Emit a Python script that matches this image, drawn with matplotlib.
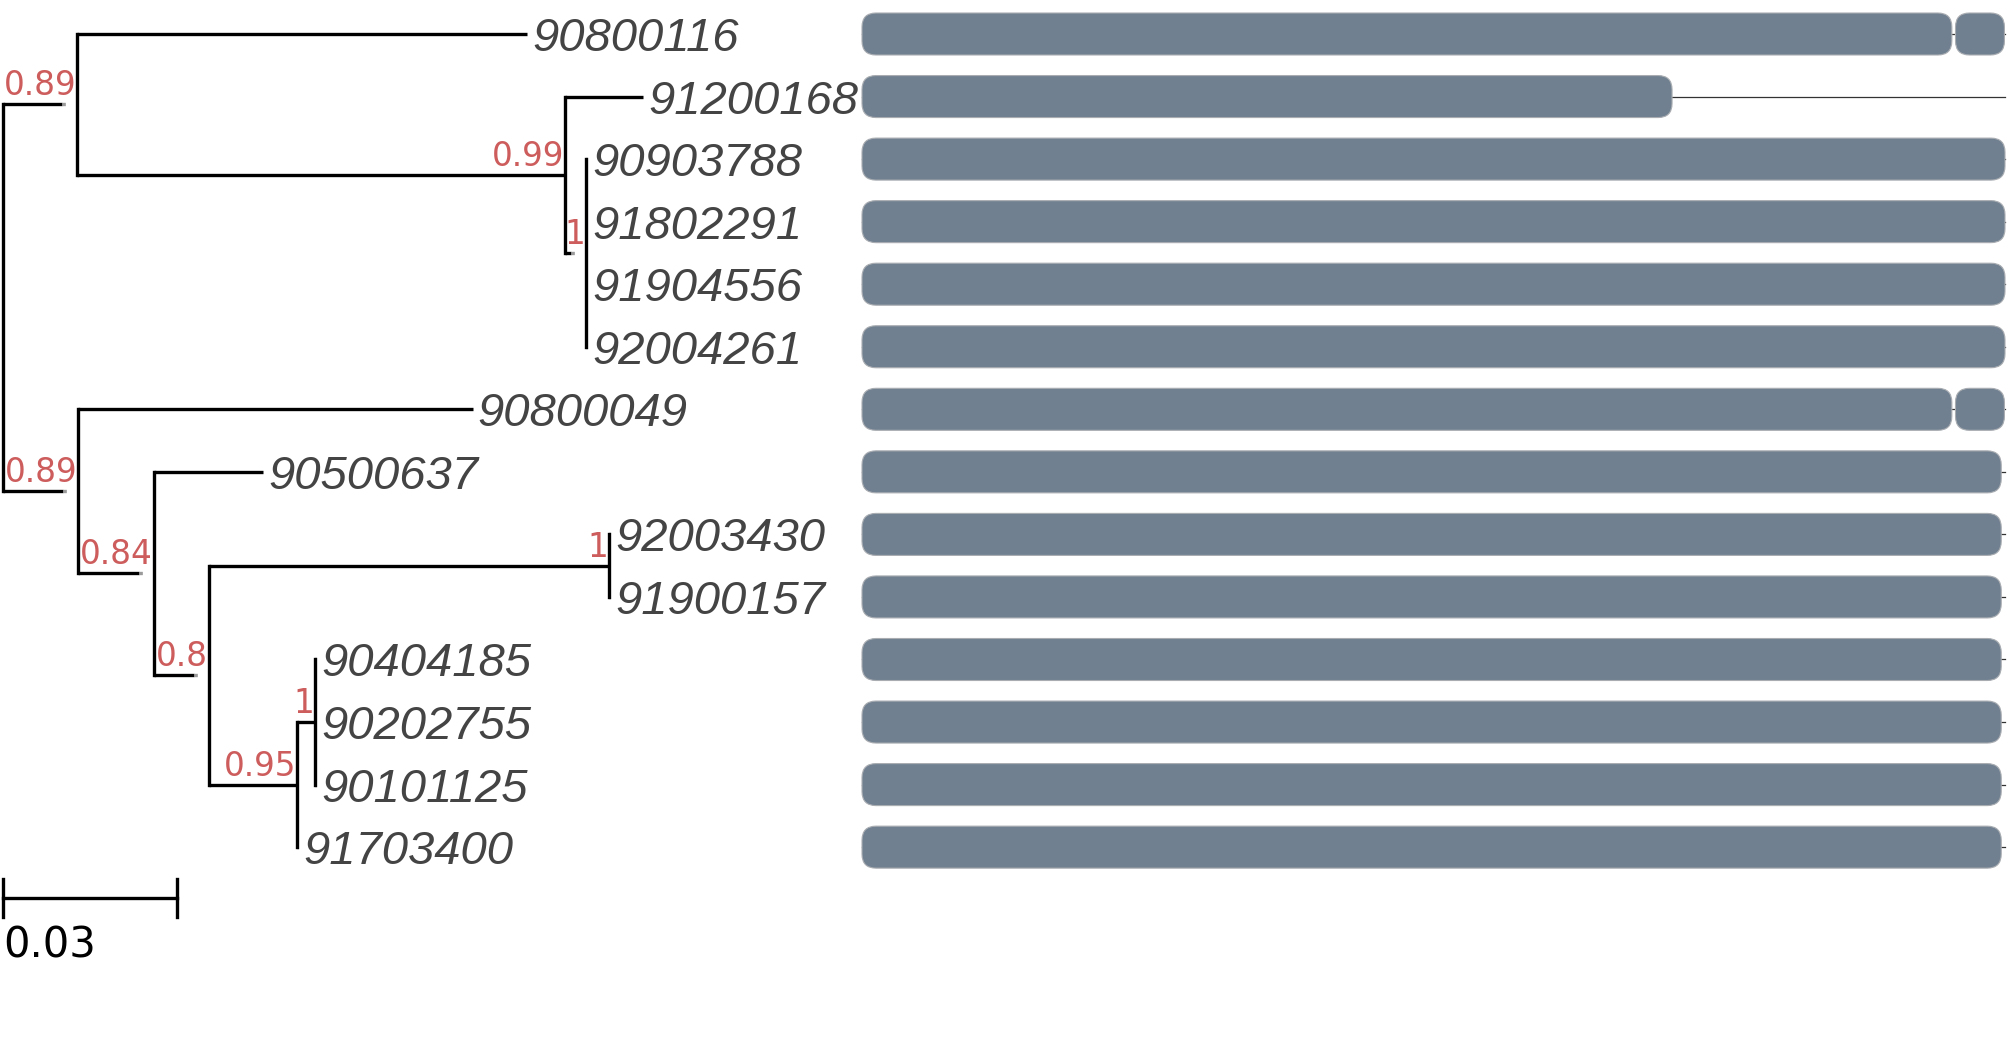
import matplotlib
matplotlib.use("Agg")
import matplotlib.pyplot as plt
from matplotlib.patches import FancyBboxPatch

# ---------------- data ----------------
tip_order = ["90800116", "91200168", "90903788", "91802291", "91904556", "92004261",
             "90800049", "90500637", "92003430", "91900157", "90404185", "90202755",
             "90101125", "91703400"]

node_name = ["root", "A", "B", "C", "D", "E", "F", "G", "H", "I",
             "90800116", "91200168", "90903788", "91802291", "91904556", "92004261",
             "90800049", "90500637", "92003430", "91900157", "90404185", "90202755",
             "90101125", "91703400"]
node_parent = [None, "root", "A", "B", "root", "D", "E", "F", "F", "H",
               "A", "B", "C", "C", "C", "C",
               "D", "E", "G", "G", "I", "I",
               "I", "H"]
branch_length = [0.0, 0.0128, 0.0844, 0.0036, 0.0130, 0.0131, 0.0095, 0.0692, 0.0152, 0.0031,
                 0.0778, 0.0135, 0.0002, 0.0002, 0.0002, 0.0002,
                 0.0682, 0.0189, 0.0002, 0.0002, 0.0002, 0.0002,
                 0.0002, 0.0002]
node_support = [None, "0.89", "0.99", "1", "0.89", "0.84", "0.8", "1", "0.95", "1"] + [None] * 14
dotted_nodes = ["A", "C", "D", "E", "F"]

scale_value = 0.03
scale_label = "0.03"

# sequence architecture (per tip, same order as tip_order)
seq_length = [1000, 1000, 1000, 1000, 1000, 1000, 1000, 1000, 1000, 1000, 1000, 1000, 1000, 1000]
seg_start = [[0, 956.7], [0], [0], [0], [0], [0], [0, 956.7], [0], [0], [0], [0], [0], [0], [0]]
seg_end = [[953.5, 999.5], [708.7], [1000], [1000], [1000], [1000], [953.5, 999.5],
           [996.7], [996.7], [996.7], [996.7], [996.7], [996.7], [996.7]]

# ---------------- layout ----------------
W, H = 2007, 1055
DPI = 100
PX = 72.0 / DPI          # points per pixel
row0_px, row_px = 34.0, 62.55
tree_x0_px, tree_px_per_unit = 3.3, 5780.0
bar_x0_px, bar_px_per_unit = 862.0, 1.143

ylim = ((H - row0_px) / row_px, -row0_px / row_px)

fig = plt.figure(figsize=(W / DPI, H / DPI), dpi=DPI)
axb = fig.add_axes([0, 0, 1, 1])
axt = fig.add_axes([0, 0, 1, 1])
axt.patch.set_alpha(0)
for ax in (axb, axt):
    ax.set_axis_off()
    ax.set_ylim(*ylim)
axt.set_xlim(-tree_x0_px / tree_px_per_unit, (W - tree_x0_px) / tree_px_per_unit)
axb.set_xlim(-bar_x0_px / bar_px_per_unit, (W - bar_x0_px) / bar_px_per_unit)

# ---------------- tree coordinates ----------------
parent_of = dict(zip(node_name, node_parent))
blen = dict(zip(node_name, branch_length))
supp = dict(zip(node_name, node_support))
children = {n: [] for n in node_name}
for n, p in zip(node_name, node_parent):
    if p is not None:
        children[p].append(n)

xpos = {}
def set_x(n, x):
    xpos[n] = x
    for c in children[n]:
        set_x(c, x + blen[c])
set_x("root", 0.0)

ypos = {t: i for i, t in enumerate(tip_order)}
def set_y(n):
    if n in ypos:
        return ypos[n]
    ys = [set_y(c) for c in children[n]]
    ypos[n] = (min(ys) + max(ys)) / 2
    return ypos[n]
set_y("root")

LW = 2.4
px_unit = 1.0 / tree_px_per_unit
for n in node_name:
    p = parent_of[n]
    if p is not None:
        x0, x1, y = xpos[p], xpos[n], ypos[n]
        if n in dotted_nodes:
            ds = max(x0 + 2 * px_unit, x1 - 15 * px_unit)
            if ds > x0 + 2 * px_unit:
                axt.plot([x0, ds], [y, y], color="black", lw=LW, solid_capstyle="butt")
            axt.plot([ds, x1 - 3 * px_unit], [y, y], color="#9a9a9a", lw=LW,
                     linestyle=(0, (1, 3)), dash_capstyle="butt")
        else:
            axt.plot([x0, x1], [y, y], color="black", lw=LW, solid_capstyle="butt")
    if children[n]:
        ys = [ypos[c] for c in children[n]]
        axt.plot([xpos[n], xpos[n]], [min(ys), max(ys)], color="black", lw=LW,
                 solid_capstyle="projecting")

# support labels
for n in node_name:
    s = supp[n]
    if s:
        axt.annotate(s, xy=(xpos[n], ypos[n]), xytext=(-1 * PX, 9 * PX),
                     textcoords="offset points", ha="right", va="baseline",
                     fontsize=23.5, color="#cd5c5c", family="DejaVu Sans")

# tip labels
for t in tip_order:
    axt.annotate(t, xy=(xpos[t], ypos[t]), xytext=(5 * PX, -17 * PX),
                 textcoords="offset points", ha="left", va="baseline",
                 fontsize=34, color="#444444", family="Liberation Sans", style="italic")

# scale bar
sb_y = (898 - row0_px) / row_px
tick_h = 19 / row_px
axt.plot([0, scale_value], [sb_y, sb_y], color="black", lw=LW)
for xx in (0, scale_value):
    axt.plot([xx, xx], [sb_y - tick_h, sb_y + tick_h], color="black", lw=LW)
axt.text(0, (957 - row0_px) / row_px, scale_label, ha="left", va="baseline",
         fontsize=30, color="black", family="DejaVu Sans")

# ---------------- sequence bars ----------------
bar_h = 42 / row_px
r_x = 14.0 / bar_px_per_unit
aspect = (1.0 / row_px) / (1.0 / bar_px_per_unit)
for i, t in enumerate(tip_order):
    axb.plot([0, seq_length[i]], [i, i], color="#333333", lw=0.9, zorder=1)
    for s, e in zip(seg_start[i], seg_end[i]):
        patch = FancyBboxPatch((s, i - bar_h / 2), e - s, bar_h,
                               boxstyle=f"round,pad=0,rounding_size={r_x}",
                               mutation_aspect=aspect,
                               facecolor="#708090", edgecolor="#a9adb2", lw=0.8, zorder=2)
        axb.add_patch(patch)

fig.savefig("out.png", dpi=DPI, facecolor="white")
